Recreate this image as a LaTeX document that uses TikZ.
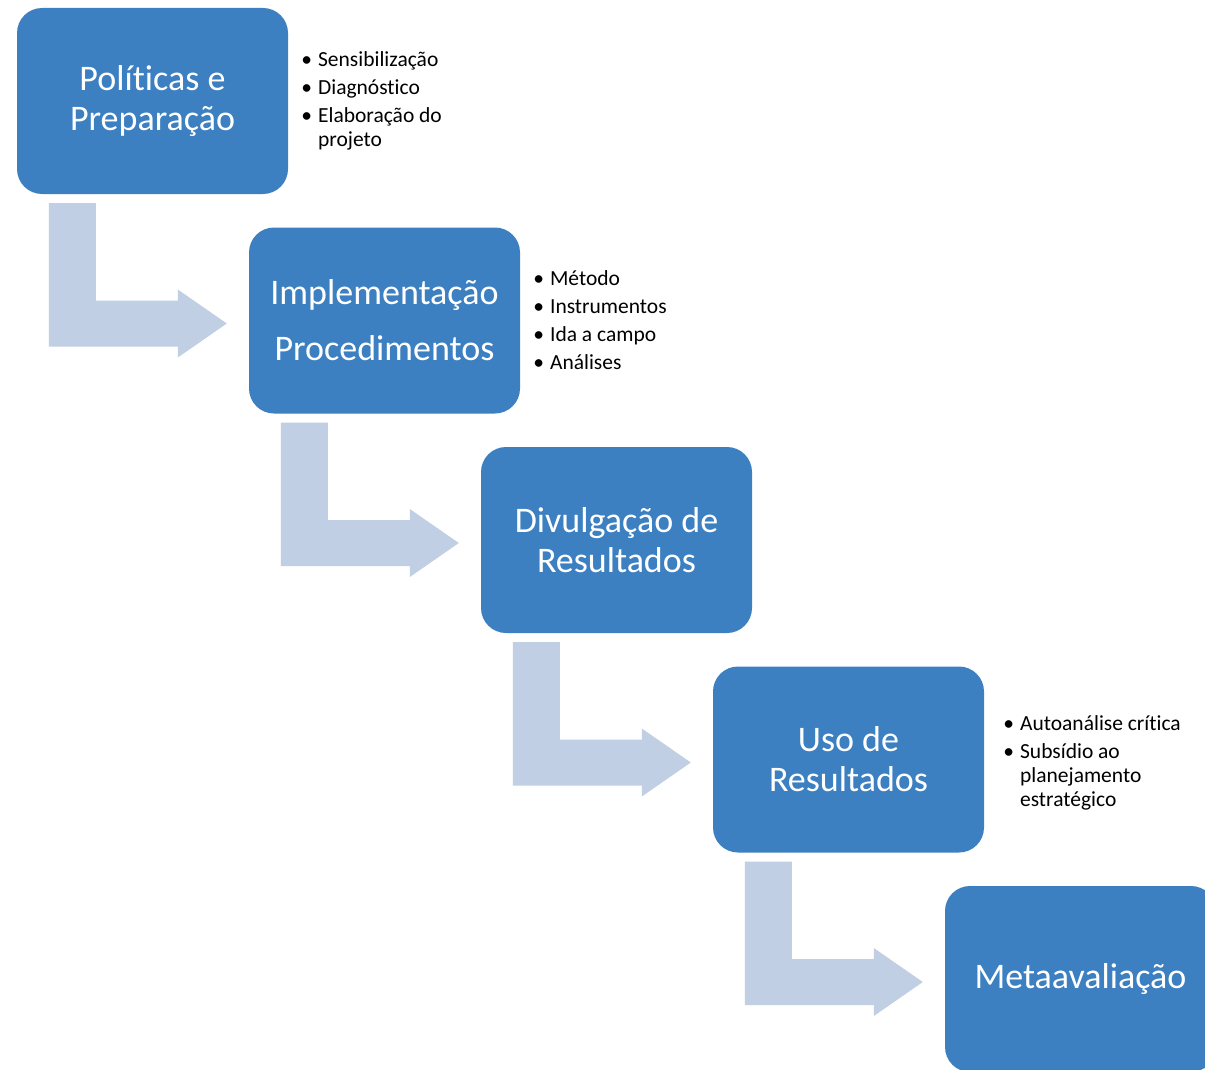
\documentclass[tikz,border=0pt]{standalone}
\usepackage{fontspec}
\setmainfont[Ligatures=NoCommon]{Carlito}
\usetikzlibrary{calc,positioning}

\definecolor{boxblue}{HTML}{3C80C1}
\definecolor{arrowblue}{HTML}{C0CFE4}

\tikzset{
	stage/.style={rectangle, rounded corners=25pt, fill=boxblue, minimum width=271pt, minimum height=186pt, inner sep=0pt, text=white, align=center, font=\fontsize{36}{40}\selectfont},
	notes/.style={inner sep=0pt, font=\fontsize{21.5}{24}\selectfont, align=left},
	bent/.style={fill=arrowblue}
}
\newcommand{\bulletlist}[1]{\begin{tabular}{@{}l@{\hspace{6pt}}l@{}}#1\end{tabular}}

\begin{document}
\begin{tikzpicture}[x=1pt,y=-1pt]
	\clip (0,0) rectangle (1205,1070);
	\fill[white] (0,0) rectangle (1205,1070);

	% etapas
	\node[stage] (pol) at (152.5,101) {Políticas e\\Preparação};
	\node[stage] (imp) at ($(pol)+(232,219.5)$) {Implementação\\[16pt]Procedimentos};
	\node[stage] (div) at ($(imp)+(232,219.5)$) {Divulgação de\\Resultados};
	\node[stage] (uso) at ($(div)+(232,219.5)$) {Uso de\\Resultados};
	\node[stage] (meta) at ($(uso)+(232,219.5)$) {Metaavaliação};

	% listas ao lado
	\node[notes, right=13pt of pol, yshift=-1pt] (polnotes) {\bulletlist{\textbullet & Sensibilização\\[4pt]
		\textbullet & Diagnóstico\\[4pt]
		\textbullet & Elaboração do\\
		& projeto}};
	\node[notes, right=13pt of imp, yshift=-2pt] (impnotes) {\bulletlist{\textbullet & Método\\[4pt]
		\textbullet & Instrumentos\\[4pt]
		\textbullet & Ida a campo\\[4pt]
		\textbullet & Análises}};
	\node[notes, right=19pt of uso, yshift=-4pt] (usonotes) {\bulletlist{\textbullet & Autoanálise crítica\\[4pt]
		\textbullet & Subsídio ao\\
		& planejamento\\
		& estratégico}};

	% setas dobradas
	\foreach \a/\b in {pol/imp, imp/div, div/uso, uso/meta} {
		\coordinate (s) at ($(\a.south west)+(32,9)$);
		\coordinate (t) at ($(\b.west)+(-22,3)$);
		\fill[bent] (s) -- ++(47,0) |- ($(t)+(-49,-23)$) -- ++(0,-11) -- (t) -- ++(-49,34) -- ++(0,-11) -| (s) -- cycle;
	}
\end{tikzpicture}
\end{document}
